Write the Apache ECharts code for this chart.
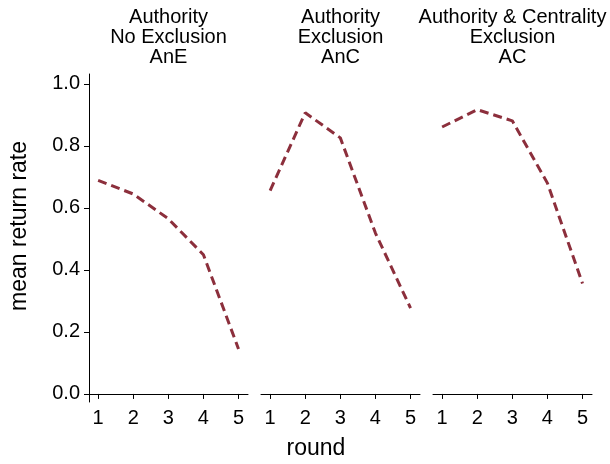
<!DOCTYPE html>
<html>
<head>
<meta charset="utf-8">
<script src="https://cdn.jsdelivr.net/npm/echarts@6/dist/echarts.min.js"></script>
<style>html,body{margin:0;padding:0;background:#fff}#c{width:610px;height:464px}</style>
</head>
<body>
<div id="c"></div>
<script>
const rounds = [1, 2, 3, 4, 5];
const anE = [0.689, 0.645, 0.565, 0.449, 0.145];
const anC = [0.656, 0.907, 0.826, 0.519, 0.277];
const ac = [0.861, 0.917, 0.881, 0.680, 0.356];
const panelTitles = [
  'Authority\nNo Exclusion\nAnE',
  'Authority\nExclusion\nAnC',
  'Authority & Centrality\nExclusion\nAC'
];
const yTicks = [0, 0.2, 0.4, 0.6, 0.8, 1.0];
const yTitle = 'mean return rate';
const xTitle = 'round';

const FONT = '"Liberation Sans", Arial, sans-serif';
const lineColor = '#8c2f3c';
const seriesData = [anE, anC, ac];
const lefts = [89, 261, 433];
const W = 159;

const grids = lefts.map(l => ({ left: l, top: 74, width: W, height: 328 }));
const xAxes = lefts.map((l, i) => ({
  type: 'value', gridIndex: i, min: 0.74, max: 5.27,
  axisLine: { show: true, lineStyle: { color: '#000', width: 1 } },
  axisTick: { show: true, length: 5, customValues: rounds, lineStyle: { color: '#000' } },
  axisLabel: { customValues: rounds, color: '#000', fontSize: 20, fontFamily: FONT, margin: 6 },
  splitLine: { show: false }
}));
const yAxes = lefts.map((l, i) => ({
  type: 'value', gridIndex: i, min: -0.026, max: 1.032, show: i === 0,
  axisLine: { show: true, lineStyle: { color: '#000', width: 1 } },
  axisTick: { show: true, length: 5, customValues: yTicks, lineStyle: { color: '#000' } },
  axisLabel: { customValues: yTicks, color: '#000', fontSize: 20, fontFamily: FONT, margin: 9,
    formatter: v => v.toFixed(1) },
  splitLine: { show: false }
}));
const series = seriesData.map((d, i) => ({
  type: 'line', xAxisIndex: i, yAxisIndex: i,
  data: rounds.map((r, k) => [r, d[k]]),
  symbol: 'none', silent: true,
  lineStyle: { color: lineColor, width: 3, type: [9, 5] }
}));
const graphics = panelTitles.map((t, i) => ({
  type: 'text', x: lefts[i] + W / 2, y: 7,
  style: { text: t, textAlign: 'center', fill: '#000', fontSize: 20, fontFamily: FONT, lineHeight: 20 }
}));
graphics.push({
  type: 'text', x: 316, y: 449,
  style: { text: xTitle, textAlign: 'center', textVerticalAlign: 'middle', fill: '#000', fontSize: 23, fontFamily: FONT }
});
graphics.push({
  type: 'text', x: 20, y: 226, rotation: Math.PI / 2,
  style: { text: yTitle, textAlign: 'center', textVerticalAlign: 'middle', fill: '#000', fontSize: 23, fontFamily: FONT }
});

const chart = echarts.init(document.getElementById('c'), null, { renderer: 'canvas' });
chart.setOption({
  animation: false,
  backgroundColor: '#fff',
  grid: grids, xAxis: xAxes, yAxis: yAxes, series: series, graphic: graphics
});
</script>
</body>
</html>
